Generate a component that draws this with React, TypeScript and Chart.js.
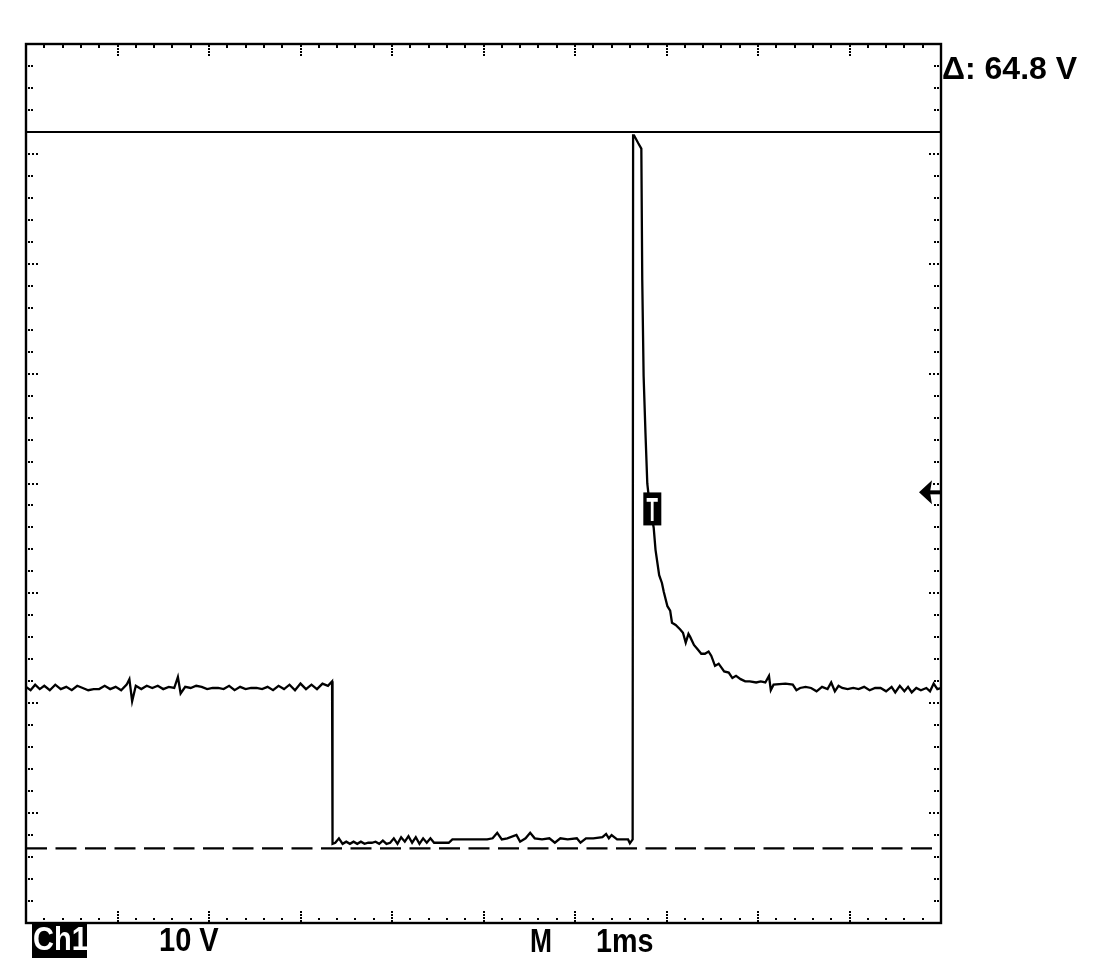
import React, { useEffect, useRef } from 'react';
import { Chart, registerables } from 'chart.js';

Chart.register(...registerables);

// ---- data (time in ms, voltage in V) ----
const highTimes = [0.0, 0.05, 0.1, 0.15, 0.2, 0.26, 0.32, 0.38, 0.44, 0.5, 0.56, 0.62, 0.68, 0.74, 0.8, 0.86, 0.92, 0.98, 1.04, 1.1, 1.13, 1.16, 1.2, 1.26, 1.32, 1.38, 1.44, 1.5, 1.56, 1.62, 1.66, 1.69, 1.74, 1.8, 1.86, 1.92, 1.98, 2.04, 2.1, 2.16, 2.22, 2.28, 2.34, 2.4, 2.46, 2.52, 2.58, 2.64, 2.7, 2.76, 2.82, 2.88, 2.94, 3.0, 3.06, 3.12, 3.18, 3.24, 3.3, 3.345];
const highVolts = [14.6, 14.3, 14.8, 14.4, 14.7, 14.3, 14.8, 14.4, 14.6, 14.3, 14.7, 14.5, 14.3, 14.4, 14.4, 14.7, 14.4, 14.6, 14.3, 14.8, 15.3, 13.3, 14.7, 14.4, 14.7, 14.5, 14.7, 14.4, 14.6, 14.5, 15.5, 14.0, 14.6, 14.5, 14.7, 14.6, 14.4, 14.5, 14.5, 14.4, 14.7, 14.3, 14.6, 14.4, 14.5, 14.5, 14.4, 14.6, 14.3, 14.7, 14.4, 14.8, 14.3, 14.9, 14.4, 14.8, 14.4, 14.9, 14.7, 15.1];

const lowTimes = [3.35, 3.38, 3.42, 3.46, 3.5, 3.54, 3.58, 3.62, 3.66, 3.7, 3.74, 3.78, 3.82, 3.86, 3.9, 3.94, 3.98, 4.02, 4.06, 4.1, 4.14, 4.18, 4.22, 4.26, 4.3, 4.34, 4.38, 4.42, 4.46, 4.5, 4.56, 4.62, 4.66, 4.72, 4.8, 4.88, 4.96, 5.04, 5.1, 5.15, 5.2, 5.26, 5.36, 5.4, 5.46, 5.51, 5.56, 5.64, 5.72, 5.78, 5.84, 5.92, 6.02, 6.06, 6.12, 6.2, 6.3, 6.34, 6.37, 6.4, 6.46, 6.54, 6.58, 6.6, 6.63];
const lowVolts = [0.4, 0.5, 0.9, 0.4, 0.6, 0.4, 0.6, 0.4, 0.6, 0.4, 0.5, 0.5, 0.6, 0.4, 0.7, 0.4, 0.5, 0.9, 0.4, 1.0, 0.6, 1.1, 0.5, 1.0, 0.4, 0.9, 0.5, 0.9, 0.5, 0.5, 0.5, 0.5, 0.8, 0.8, 0.8, 0.8, 0.8, 0.8, 0.9, 1.4, 0.8, 0.9, 1.2, 0.6, 0.9, 1.4, 0.9, 0.8, 0.9, 0.5, 0.9, 0.8, 0.9, 0.5, 0.9, 0.9, 1.0, 1.3, 0.9, 1.2, 0.8, 0.8, 0.8, 0.45, 0.8];

const decayTimes = [6.635, 6.645, 6.69, 6.725, 6.735, 6.75, 6.77, 6.79, 6.81, 6.86, 6.88, 6.92, 6.95, 6.97, 7.01, 7.04, 7.06, 7.1, 7.15, 7.18, 7.21, 7.24, 7.26, 7.3, 7.34, 7.38, 7.42, 7.46, 7.49, 7.53, 7.57, 7.63, 7.68, 7.72, 7.76, 7.81, 7.86, 7.91, 7.98, 8.03, 8.08, 8.12, 8.14, 8.17, 8.3, 8.38, 8.42, 8.46, 8.52, 8.58, 8.64, 8.7, 8.76, 8.8, 8.84, 8.88, 8.92, 8.98, 9.04, 9.1, 9.16, 9.22, 9.28, 9.34, 9.4, 9.46, 9.5, 9.55, 9.6, 9.64, 9.68, 9.73, 9.78, 9.84, 9.88, 9.92, 9.96, 10.0];
const decayVolts = [64.5, 64.5, 63.8, 63.3, 51.4, 42.7, 37.6, 33.0, 31.5, 29.0, 27.0, 24.7, 24.0, 23.2, 21.9, 21.5, 20.4, 20.2, 19.8, 19.5, 18.6, 19.4, 19.1, 18.4, 18.0, 17.6, 17.6, 17.8, 17.4, 16.5, 16.7, 16.0, 15.9, 15.4, 15.6, 15.3, 15.1, 15.1, 15.0, 15.1, 15.0, 15.6, 14.3, 14.8, 14.9, 14.8, 14.3, 14.5, 14.6, 14.5, 14.2, 14.6, 14.4, 15.0, 14.2, 14.7, 14.5, 14.4, 14.5, 14.4, 14.6, 14.3, 14.5, 14.5, 14.2, 14.6, 14.1, 14.7, 14.2, 14.6, 14.1, 14.5, 14.3, 14.5, 14.2, 14.9, 14.4, 14.5];

const cursorVolts = [64.8, 0];
const timeRange = [0, 10];
const voltRange = [-6.76, 72.76];
const triggerLevel = 32.2;
const markerTime = 6.845;
const markerVolt = 30.7;

const deltaLabel = 'Δ: 64.8 V';
const channelLabel = 'Ch1';
const scaleLabel = '10 V';
const timebaseLabels = ['M', '1ms'];

const FONT = '"Liberation Sans", Arial, sans-serif';

const scopePlugin = {
  id: 'scopeGraticule',
  beforeDatasetsDraw(chart: any) {
    const { ctx, chartArea, scales } = chart;
    const { left, top, right, bottom } = chartArea;
    const xs = scales.x;
    const ys = scales.y;
    ctx.save();
    ctx.fillStyle = '#000';
    const xStep = (timeRange[1] - timeRange[0]) / 50;
    for (let i = 1; i < 50; i++) {
      const px = Math.round(xs.getPixelForValue(timeRange[0] + i * xStep));
      if (i % 5 === 0) {
        for (const d of [1, 4, 7, 10]) {
          ctx.fillRect(px - 1, top + d, 2, 2);
          ctx.fillRect(px - 1, bottom - d - 2, 2, 2);
        }
      } else {
        ctx.fillRect(px - 1, top + 1, 2, 3);
        ctx.fillRect(px - 1, bottom - 5, 2, 2);
      }
    }
    const yStep = (voltRange[1] - voltRange[0]) / 40;
    for (let i = 1; i < 40; i++) {
      const py = Math.round(ys.getPixelForValue(voltRange[1] - i * yStep));
      if (i % 5 === 0) {
        for (const d of [2, 6, 10]) {
          ctx.fillRect(left + d, py - 1, 2, 2);
          ctx.fillRect(right - d - 2, py - 1, 2, 2);
        }
      } else {
        for (const d of [2, 5]) {
          ctx.fillRect(left + d, py - 1, 2, 2);
          ctx.fillRect(right - d - 2, py - 1, 2, 2);
        }
      }
    }
    ctx.restore();
  },
  afterDatasetsDraw(chart: any) {
    const { ctx, chartArea, scales } = chart;
    const { left, top, right, bottom } = chartArea;
    ctx.save();
    ctx.strokeStyle = '#000';
    ctx.lineWidth = 2.4;
    ctx.strokeRect(left, top, right - left, bottom - top);

    // trigger marker "T"
    const tx = scales.x.getPixelForValue(markerTime);
    const ty = scales.y.getPixelForValue(markerVolt);
    ctx.fillStyle = '#000';
    ctx.fillRect(tx - 9, ty - 16.5, 18, 33);
    ctx.save();
    ctx.translate(tx, ty);
    ctx.scale(0.55, 1);
    ctx.fillStyle = '#fff';
    ctx.font = 'bold 34px "Liberation Sans", Arial, sans-serif';
    ctx.textAlign = 'center';
    ctx.textBaseline = 'alphabetic';
    ctx.fillText('T', 0, 12);
    ctx.restore();

    // trigger level arrow on right edge
    const ay = scales.y.getPixelForValue(triggerLevel);
    ctx.fillStyle = '#000';
    ctx.beginPath();
    ctx.moveTo(right - 22, ay);
    ctx.lineTo(right - 9, ay - 12);
    ctx.lineTo(right - 11, ay);
    ctx.lineTo(right - 9, ay + 12);
    ctx.closePath();
    ctx.fill();
    ctx.fillRect(right - 12, ay - 2, 12, 4);
    ctx.restore();
  },
};

function toPoints(ts: number[], vs: number[]) {
  return ts.map((t, i) => ({ x: t, y: vs[i] }));
}

export default function App() {
  const ref = useRef<HTMLCanvasElement | null>(null);

  useEffect(() => {
    if (!ref.current) return;
    const trace = [
      ...toPoints(highTimes, highVolts),
      ...toPoints(lowTimes, lowVolts),
      ...toPoints(decayTimes, decayVolts),
    ];
    const chart = new Chart(ref.current, {
      type: 'line',
      data: {
        datasets: [
          {
            label: 'cursor1',
            data: [
              { x: timeRange[0], y: cursorVolts[0] },
              { x: timeRange[1], y: cursorVolts[0] },
            ],
            borderColor: '#000',
            borderWidth: 2.2,
            pointRadius: 0,
          },
          {
            label: 'cursor2',
            data: [
              { x: timeRange[0], y: cursorVolts[1] },
              { x: timeRange[1], y: cursorVolts[1] },
            ],
            borderColor: '#000',
            borderWidth: 2.2,
            borderDash: [21, 8.5],
            pointRadius: 0,
          },
          {
            label: 'Ch1',
            data: trace,
            borderColor: '#000',
            borderWidth: 2.3,
            pointRadius: 0,
            tension: 0,
          },
        ],
      },
      options: {
        responsive: false,
        animation: false,
        devicePixelRatio: 1,
        layout: { padding: { left: 26, top: 44, right: 158, bottom: 54 } },
        plugins: { legend: { display: false }, tooltip: { enabled: false }, title: { display: false } },
        events: [],
        scales: {
          x: { type: 'linear', min: timeRange[0], max: timeRange[1], display: false },
          y: { type: 'linear', min: voltRange[0], max: voltRange[1], display: false },
        },
      },
      plugins: [scopePlugin],
    });
    return () => chart.destroy();
  }, []);

  const textBase: React.CSSProperties = {
    position: 'absolute',
    fontFamily: FONT,
    fontWeight: 'bold',
    fontSize: 33,
    lineHeight: '33px',
    whiteSpace: 'pre',
    color: '#000',
  };
  const squeeze = (k: number): React.CSSProperties => ({
    display: 'inline-block',
    transform: `scaleX(${k})`,
    transformOrigin: 'left center',
  });

  return (
    <div style={{ position: 'absolute', left: 0, top: 0, width: 1099, height: 977, background: '#fff', overflow: 'hidden' }}>
      <canvas ref={ref} width={1099} height={977} style={{ display: 'block', width: 1099, height: 977 }} />
      <div style={{ ...textBase, left: 942, top: 52, fontSize: 32, lineHeight: '32px' }}>{deltaLabel}</div>
      <div
        style={{
          position: 'absolute',
          left: 32,
          top: 923,
          width: 55,
          height: 35,
          background: '#000',
        }}
      />
      <div style={{ ...textBase, left: 33, top: 922, color: '#fff' }}>
        <span style={squeeze(0.88)}>{channelLabel}</span>
      </div>
      <div style={{ ...textBase, left: 159, top: 923 }}>
        <span style={squeeze(0.88)}>{scaleLabel}</span>
      </div>
      <div style={{ ...textBase, left: 530, top: 924 }}>
        <span style={squeeze(0.8)}>{timebaseLabels[0]}</span>
      </div>
      <div style={{ ...textBase, left: 596, top: 924 }}>
        <span style={squeeze(0.87)}>{timebaseLabels[1]}</span>
      </div>
    </div>
  );
}
